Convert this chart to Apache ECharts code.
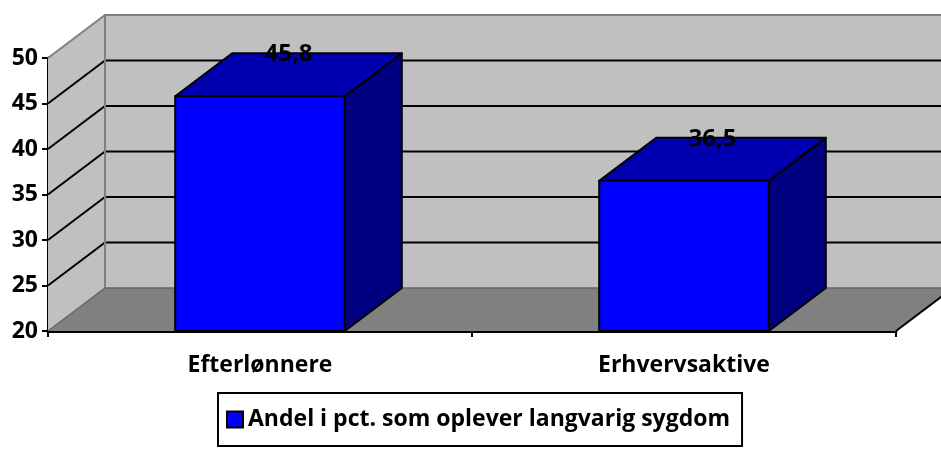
<!DOCTYPE html>
<html>
<head>
<meta charset="utf-8">
<script src="https://cdn.jsdelivr.net/npm/echarts@6/dist/echarts.min.js"></script>
<style>
  html, body { margin: 0; padding: 0; background: #fff; }
  #chart { width: 941px; height: 453px; }
</style>
</head>
<body>
<div id="chart"></div>
<script>
const categories = ['Efterlønnere', 'Erhvervsaktive'];
const seriesName = 'Andel i pct. som oplever langvarig sygdom';
const values = [45.8, 36.5];
const yTicks = [20, 25, 30, 35, 40, 45, 50];

const FONT = '"Open Sans"';
const FS = 23;
// depth of the fake 3d box (px)
const DX = 57, DY = -43;

const myChart = echarts.init(document.getElementById('chart'));

function renderFrame(params, api) {
  const cs = params.coordSys;
  const left = cs.x, right = cs.x + cs.width;
  const yOf = v => api.coord([0, v])[1];
  const top = yOf(yTicks[yTicks.length - 1]);
  const bottom = yOf(yTicks[0]);
  const children = [];
  // back wall
  children.push({
    type: 'polygon',
    shape: { points: [[left + DX, top + DY], [right + DX, top + DY], [right + DX, bottom + DY], [left + DX, bottom + DY]] },
    style: { fill: '#c0c0c0', stroke: null }
  });
  // left wall
  children.push({
    type: 'polygon',
    shape: { points: [[left, top], [left + DX, top + DY], [left + DX, bottom + DY], [left, bottom]] },
    style: { fill: '#c0c0c0', stroke: null }
  });
  // floor
  children.push({
    type: 'polygon',
    shape: { points: [[left, bottom], [left + DX, bottom + DY], [right + DX, bottom + DY], [right, bottom]] },
    style: { fill: '#808080', stroke: null }
  });
  // grid lines on the side and back walls
  yTicks.slice(1, -1).forEach(v => {
    const y = yOf(v);
    children.push({
      type: 'polyline',
      shape: { points: [[left, y], [left + DX, y + DY], [right + DX, y + DY]] },
      style: { stroke: '#000', lineWidth: 2, fill: null }
    });
  });
  // wall edges
  children.push({
    type: 'polyline',
    shape: { points: [[left, top], [left + DX, top + DY], [right + DX, top + DY]] },
    style: { stroke: '#808080', lineWidth: 2, fill: null }
  });
  children.push({
    type: 'line',
    shape: { x1: left + DX, y1: top + DY, x2: left + DX, y2: bottom + DY },
    style: { stroke: '#808080', lineWidth: 2 }
  });
  children.push({
    type: 'polyline',
    shape: { points: [[left, bottom], [left + DX, bottom + DY], [right + DX, bottom + DY]] },
    style: { stroke: '#666', lineWidth: 1.5, fill: null }
  });
  // floor right edge
  children.push({
    type: 'line',
    shape: { x1: right, y1: bottom, x2: right + DX, y2: bottom + DY },
    style: { stroke: '#000', lineWidth: 2 }
  });
  return { type: 'group', children: children };
}

function renderBar(params, api) {
  const idx = api.value(0);
  const val = api.value(1);
  const p = api.coord([idx, val]);
  const y0 = api.coord([idx, yTicks[0]])[1];
  const w = api.size([1, 0])[0] * 0.4;
  const x1 = p[0] - w / 2, x2 = p[0] + w / 2, yv = p[1];
  const edge = { stroke: '#000', lineWidth: 2, lineJoin: 'round' };
  return {
    type: 'group',
    children: [
      {
        type: 'polygon',
        shape: { points: [[x2, yv], [x2 + DX, yv + DY], [x2 + DX, y0 + DY], [x2, y0]] },
        style: Object.assign({ fill: '#000080' }, edge)
      },
      {
        type: 'polygon',
        shape: { points: [[x1, yv], [x1 + DX, yv + DY], [x2 + DX, yv + DY], [x2, yv]] },
        style: Object.assign({ fill: '#0000b0' }, edge)
      },
      {
        type: 'rect',
        shape: { x: x1, y: yv, width: w, height: y0 - yv },
        style: Object.assign({ fill: '#0000ff' }, edge)
      },
      {
        type: 'text',
        style: {
          text: String(val).replace('.', ','),
          x: p[0] + DX / 2, y: yv + DY + 1,
          align: 'center', verticalAlign: 'middle',
          fill: '#000', font: 'bold ' + (FS + 1) + 'px ' + FONT
        }
      }
    ]
  };
}

const option = {
  animation: false,
  backgroundColor: '#fff',
  textStyle: { fontFamily: FONT },
  grid: { left: 48, right: 45, top: 58, bottom: 122 },
  legend: {
    data: [seriesName],
    left: 218, top: 393,
    padding: [15, 12, 15, 8],
    borderColor: '#000', borderWidth: 2,
    icon: 'rect', itemWidth: 16, itemHeight: 16, itemGap: 6,
    textStyle: { fontFamily: FONT, fontWeight: 'bold', fontSize: FS, color: '#000' }
  },
  xAxis: {
    type: 'category',
    data: categories,
    axisLine: { lineStyle: { color: '#000', width: 3 } },
    axisTick: { show: true, length: 6, lineStyle: { color: '#000', width: 2 } },
    axisLabel: { margin: 23, color: '#000', fontFamily: FONT, fontWeight: 'bold', fontSize: FS },
    splitLine: { show: false }
  },
  yAxis: {
    type: 'value',
    min: 20, max: 50, interval: 5,
    axisLine: { show: true, lineStyle: { color: '#000', width: 3 } },
    axisTick: { show: true, length: 6, lineStyle: { color: '#000', width: 2 } },
    axisLabel: { margin: 10, color: '#000', fontFamily: FONT, fontWeight: 'bold', fontSize: FS },
    splitLine: { show: false }
  },
  series: [
    {
      type: 'custom',
      name: 'frame',
      renderItem: renderFrame,
      data: [[0, yTicks[0]]],
      silent: true,
      z: 1
    },
    {
      type: 'custom',
      name: seriesName,
      renderItem: renderBar,
      itemStyle: { color: '#0000ff', borderColor: '#000', borderWidth: 1.5 },
      data: values.map((v, i) => [i, v]),
      z: 2
    }
  ]
};

myChart.setOption(option);
</script>
</body>
</html>
